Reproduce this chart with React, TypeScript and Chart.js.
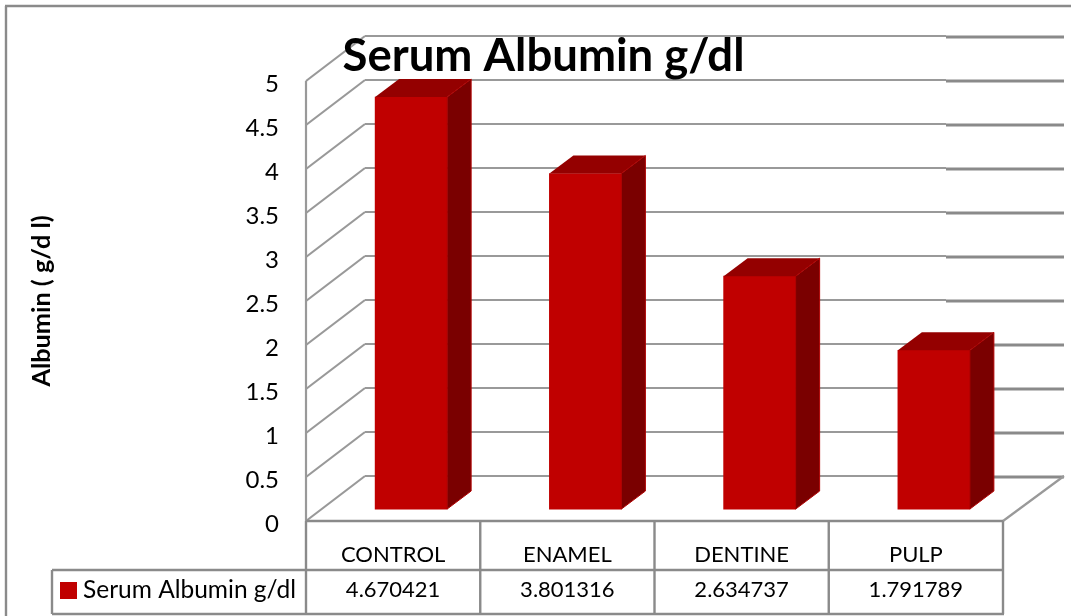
import React, { useEffect, useRef } from "react";
import { Chart, registerables } from "chart.js";

Chart.register(...registerables);

const categories = ["CONTROL", "ENAMEL", "DENTINE", "PULP"];
const seriesValues = [4.670421, 3.801316, 2.634737, 1.791789];
const seriesName = "Serum Albumin g/dl";
const chartTitle = "Serum Albumin g/dl";
const axisTitle = "Albumin ( g/d l)";

const FONT = "Lato, Carlito, sans-serif";
const LINE = "#8a8a8a";
const GRID = "#999999";
const FRONT = "#c00000";
const TOP = "#940000";
const SIDE = "#7a0000";
const DEPTH_X = 59;
const DEPTH_Y = 45;
const BAR_SHIFT_X = 18;
const BAR_SHIFT_Y = 13;
const BAR_DEPTH_X = 24;
const BAR_DEPTH_Y = 18;

function seg(ctx: any, x1: number, y1: number, x2: number, y2: number) {
  ctx.beginPath();
  ctx.moveTo(x1, y1);
  ctx.lineTo(x2, y2);
  ctx.stroke();
}

const frame3d = {
  id: "frame3d",
  beforeDraw(chart: any) {
    const { ctx, chartArea, scales } = chart;
    const { left, right, bottom } = chartArea;
    ctx.save();
    ctx.strokeStyle = GRID;
    ctx.lineWidth = 2.2;
    for (const t of scales.y.ticks) {
      const y = scales.y.getPixelForValue(t.value);
      seg(ctx, left, y, left + DEPTH_X, y - DEPTH_Y);
      seg(ctx, left + DEPTH_X, y - DEPTH_Y, 946, y - DEPTH_Y);
      ctx.lineWidth = 2.8;
      ctx.strokeStyle = LINE;
      seg(ctx, 946, y - DEPTH_Y + 1, right + DEPTH_X + 2, y - DEPTH_Y + 1);
      ctx.lineWidth = 2.2;
      ctx.strokeStyle = GRID;
    }
    seg(ctx, left, scales.y.top, left, bottom);
    seg(ctx, right, bottom, right + DEPTH_X + 2, bottom - DEPTH_Y);

    ctx.strokeStyle = LINE;
    ctx.lineWidth = 2.4;
    seg(ctx, 6, 616, 6, 6);
    seg(ctx, 5, 6, 1071, 6);
    // data table
    seg(ctx, left, bottom, right, bottom);
    seg(ctx, 52, 570, right, 570);
    seg(ctx, 52, 614, right + 1, 614);
    seg(ctx, 52, 570, 52, 614);
    const n = categories.length;
    for (let i = 0; i <= n; i++) {
      const x = left + ((right - left) * i) / n;
      seg(ctx, x, bottom, x, 614);
    }
    // legend key inside the table
    ctx.fillStyle = FRONT;
    ctx.fillRect(60, 582, 17, 17);
    ctx.fillStyle = "#000";
    ctx.font = `24.5px ${FONT}`;
    ctx.textBaseline = "middle";
    ctx.textAlign = "left";
    ctx.fillText(chart.data.datasets[0].label, 83, 590);
    ctx.restore();
  },
  beforeDatasetsDraw(chart: any) {
    chart.ctx.save();
    chart.ctx.translate(BAR_SHIFT_X, -BAR_SHIFT_Y);
  },
  afterDatasetsDraw(chart: any) {
    const { ctx } = chart;
    for (const bar of chart.getDatasetMeta(0).data) {
      const { x, y, base, width } = bar.getProps(["x", "y", "base", "width"], true);
      const l = x - width / 2;
      const r = x + width / 2;
      ctx.lineWidth = 1;
      ctx.strokeStyle = "#b00000";
      ctx.fillStyle = TOP;
      ctx.beginPath();
      ctx.moveTo(l, y);
      ctx.lineTo(l + BAR_DEPTH_X, y - BAR_DEPTH_Y);
      ctx.lineTo(r + BAR_DEPTH_X, y - BAR_DEPTH_Y);
      ctx.lineTo(r, y);
      ctx.closePath();
      ctx.fill();
      ctx.fillStyle = SIDE;
      ctx.beginPath();
      ctx.moveTo(r, y);
      ctx.lineTo(r + BAR_DEPTH_X, y - BAR_DEPTH_Y);
      ctx.lineTo(r + BAR_DEPTH_X, base - BAR_DEPTH_Y);
      ctx.lineTo(r, base);
      ctx.closePath();
      ctx.fill();
      ctx.stroke();
    }
    ctx.restore();
  },
};

export default function App() {
  const ref = useRef<HTMLCanvasElement>(null);
  useEffect(() => {
    const chart = new Chart(ref.current as HTMLCanvasElement, {
      type: "bar",
      data: {
        labels: categories,
        datasets: [
          {
            label: seriesName,
            data: seriesValues,
            backgroundColor: FRONT,
            borderWidth: 0,
            barThickness: 72,
            base: -0.012,
            clip: false,
          } as any,
        ],
      },
      options: {
        responsive: false,
        animation: false,
        layout: { padding: { left: 16, top: 34, right: 0, bottom: 0 } },
        plugins: {
          legend: { display: false },
          tooltip: { enabled: false },
          title: {
            display: true,
            text: chartTitle,
            color: "#000",
            font: { family: FONT, size: 45.5, weight: "bold", lineHeight: 1 },
            padding: { top: 0, bottom: 1.5 },
          },
        },
        scales: {
          x: {
            grid: { display: false, drawTicks: false },
            border: { display: false },
            ticks: {
              autoSkip: false,
              maxRotation: 0,
              padding: 16,
              color: "#000",
              font: { family: FONT, size: 22, lineHeight: 35 / 22 },
              callback: (_v: any, i: number) => [categories[i], seriesValues[i].toFixed(6)],
            },
            afterFit: (s: any) => {
              s.height = 95;
            },
          },
          y: {
            min: 0,
            max: 5,
            grid: { display: false, drawTicks: false },
            border: { display: false },
            ticks: {
              stepSize: 0.5,
              padding: 27,
              color: "#000",
              font: { family: FONT, size: 24, lineHeight: 7 / 24 },
              callback: (v: any) => ["", String(v)],
            },
            title: {
              display: true,
              text: axisTitle,
              color: "#000",
              font: { family: FONT, size: 25.3, weight: "bold", lineHeight: 1.2 },
              padding: { top: 11, bottom: 0 },
            },
            afterFit: (s: any) => {
              s.width = 290;
            },
          },
          pad: {
            type: "linear",
            position: "right",
            display: true,
            grid: { display: false, drawTicks: false },
            border: { display: false },
            ticks: { display: false },
            afterFit: (s: any) => {
              s.width = 68;
            },
          },
        },
      } as any,
      plugins: [frame3d],
    });
    return () => chart.destroy();
  }, []);
  return (
    <canvas
      ref={ref}
      width={1071}
      height={616}
      style={{ position: "absolute", left: 0, top: 0, display: "block" }}
    />
  );
}
